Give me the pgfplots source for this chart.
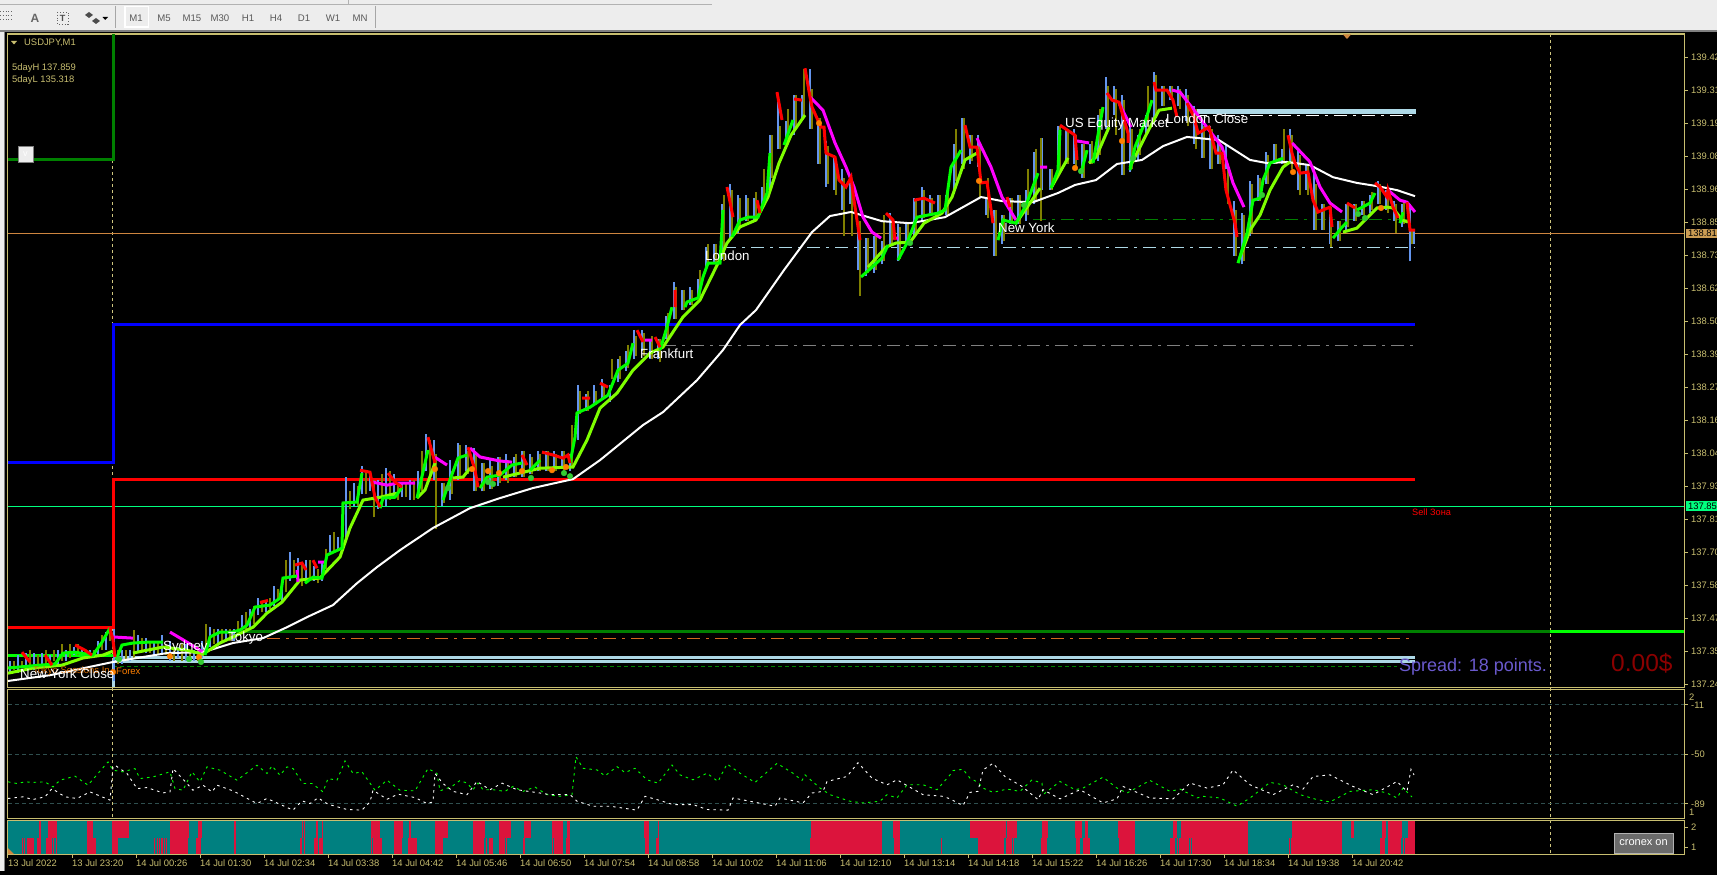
\documentclass[border=0pt]{standalone}
\usepackage{fontspec}
\setmainfont{Liberation Sans}
\usepackage{pgfplots}
\usepackage{pgfplotstable}
\pgfplotsset{compat=1.18}

\definecolor{khaki}{HTML}{C8BE70}
\definecolor{wickup}{HTML}{6495ED}
\definecolor{wickdn}{HTML}{808000}
\definecolor{slowgr}{HTML}{7FFF00}
\definecolor{bidline}{HTML}{CD853F}
\definecolor{teal1}{HTML}{008080}
\definecolor{crim}{HTML}{DC143C}
\definecolor{grid1}{HTML}{2F4F4F}
\definecolor{magen}{HTML}{FF00FF}

% x is the bar position, one bar for each pixel column
% candles: x high low
\pgfplotstableread[row sep=\\]{
x hi lo\\
10 137.32 137.28\\ 18 137.34 137.28\\ 26 137.35 137.30\\ 34 137.35 137.29\\ 42 137.35 137.30\\ 50 137.34 137.30\\
58 137.36 137.31\\ 66 137.36 137.32\\ 74 137.37 137.34\\ 82 137.36 137.34\\ 90 137.36 137.33\\ 98 137.39 137.34\\
106 137.42 137.36\\ 114 137.43 137.25\\ 122 137.36 137.31\\ 130 137.36 137.32\\ 138 137.41 137.35\\ 146 137.40 137.35\\
154 137.39 137.34\\ 162 137.41 137.35\\ 170 137.39 137.32\\ 178 137.37 137.33\\ 186 137.38 137.32\\ 194 137.36 137.32\\
202 137.39 137.33\\ 210 137.44 137.37\\ 218 137.43 137.38\\ 226 137.43 137.39\\ 234 137.43 137.39\\ 242 137.48 137.43\\
250 137.50 137.43\\ 258 137.54 137.48\\ 266 137.53 137.49\\ 274 137.58 137.51\\ 282 137.58 137.53\\ 290 137.70 137.60\\
298 137.68 137.62\\ 306 137.67 137.59\\ 314 137.65 137.60\\ 322 137.66 137.60\\ 330 137.76 137.70\\ 338 137.75 137.71\\
346 137.96 137.74\\ 354 137.94 137.86\\ 362 138.00 137.90\\ 370 137.98 137.91\\ 378 137.95 137.85\\ 386 137.99 137.86\\
394 137.97 137.89\\ 402 137.94 137.89\\ 410 137.95 137.88\\ 418 137.98 137.89\\ 426 138.11 137.98\\ 434 138.09 137.95\\
442 137.94 137.86\\ 450 138.02 137.88\\ 458 138.08 137.95\\ 466 138.07 137.98\\ 474 138.06 137.91\\ 482 138.01 137.91\\
490 138.02 137.92\\ 498 138.03 137.93\\ 506 138.04 137.95\\ 514 138.03 137.96\\ 522 138.05 137.96\\ 530 138.04 137.97\\
538 138.05 137.98\\ 546 138.05 137.98\\ 554 138.05 137.98\\ 562 138.05 137.99\\ 570 138.04 137.98\\ 578 138.28 138.09\\
586 138.25 138.19\\ 594 138.28 138.21\\ 602 138.30 138.23\\ 610 138.28 138.22\\ 618 138.37 138.29\\ 626 138.40 138.33\\
634 138.47 138.37\\ 642 138.47 138.40\\ 650 138.44 138.37\\ 658 138.44 138.37\\ 666 138.52 138.44\\ 674 138.64 138.51\\
682 138.61 138.54\\ 690 138.62 138.56\\ 698 138.65 138.58\\ 706 138.76 138.69\\ 714 138.77 138.70\\ 722 138.91 138.72\\
730 138.98 138.78\\ 738 138.94 138.81\\ 746 138.94 138.85\\ 754 138.93 138.85\\ 762 138.97 138.89\\ 770 139.15 138.96\\
778 139.29 139.10\\ 786 139.20 139.13\\ 794 139.29 139.15\\ 802 139.29 139.20\\ 810 139.38 139.17\\ 818 139.21 139.05\\
826 139.13 138.97\\ 834 139.08 138.96\\ 842 139.03 138.89\\ 850 138.99 138.91\\ 858 138.84 138.68\\ 866 138.79 138.66\\
874 138.80 138.67\\ 882 138.78 138.70\\ 890 138.88 138.77\\ 898 138.84 138.71\\ 906 138.84 138.77\\ 914 138.93 138.80\\
922 138.97 138.85\\ 930 138.94 138.87\\ 938 138.94 138.87\\ 946 138.94 138.87\\ 954 139.12 138.96\\ 962 139.21 139.05\\
970 139.15 139.05\\ 978 139.15 139.04\\ 986 138.93 138.87\\ 994 138.89 138.73\\ 1002 138.87 138.77\\ 1010 138.93 138.84\\
1018 138.94 138.84\\ 1026 138.96 138.85\\ 1034 139.09 138.91\\ 1042 139.14 138.96\\ 1050 139.03 138.96\\ 1058 139.18 139.03\\
1066 139.17 139.05\\ 1074 139.17 139.05\\ 1082 139.12 139.00\\ 1090 139.12 139.05\\ 1098 139.22 139.06\\ 1106 139.35 139.17\\
1114 139.32 139.22\\ 1122 139.29 139.01\\ 1130 139.18 139.02\\ 1138 139.15 139.06\\ 1146 139.22 139.15\\ 1154 139.37 139.20\\
1162 139.32 139.25\\ 1170 139.32 139.27\\ 1178 139.32 139.25\\ 1186 139.31 139.20\\ 1194 139.25 139.12\\ 1202 139.20 139.07\\
1210 139.18 139.03\\ 1218 139.15 139.05\\ 1226 139.12 139.03\\ 1234 138.92 138.73\\ 1242 138.88 138.70\\ 1250 138.99 138.80\\
1258 139.01 138.92\\ 1266 139.09 138.98\\ 1274 139.12 139.05\\ 1282 139.10 139.05\\ 1290 139.17 139.05\\ 1298 139.10 138.96\\
1306 139.05 138.96\\ 1314 139.03 138.82\\ 1322 138.91 138.82\\ 1330 138.90 138.77\\ 1338 138.85 138.78\\ 1346 138.91 138.82\\
1354 138.91 138.85\\ 1362 138.92 138.87\\ 1370 138.94 138.88\\ 1378 138.99 138.91\\ 1386 138.96 138.89\\ 1394 138.92 138.85\\
1402 138.91 138.83\\ 1410 138.91 138.71\\ 1414 138.82 138.77\\
}\bullbars
\pgfplotstableread[row sep=\\]{
x hi lo\\
14 137.32 137.29\\ 22 137.32 137.30\\ 30 137.36 137.30\\ 38 137.34 137.30\\ 46 137.36 137.31\\ 54 137.36 137.32\\
62 137.38 137.32\\ 70 137.38 137.33\\ 78 137.38 137.34\\ 86 137.36 137.34\\ 94 137.36 137.34\\ 102 137.41 137.36\\
110 137.43 137.39\\ 118 137.36 137.31\\ 126 137.36 137.32\\ 134 137.43 137.33\\ 142 137.40 137.36\\ 150 137.39 137.35\\
158 137.39 137.34\\ 166 137.38 137.34\\ 174 137.36 137.32\\ 182 137.38 137.32\\ 190 137.36 137.32\\ 198 137.37 137.32\\
206 137.45 137.36\\ 214 137.43 137.38\\ 222 137.43 137.39\\ 230 137.43 137.39\\ 238 137.46 137.42\\ 246 137.49 137.43\\
254 137.51 137.45\\ 262 137.53 137.49\\ 270 137.54 137.50\\ 278 137.57 137.53\\ 286 137.67 137.56\\ 294 137.67 137.61\\
302 137.66 137.58\\ 310 137.67 137.61\\ 318 137.64 137.59\\ 326 137.71 137.64\\ 334 137.77 137.70\\ 342 137.74 137.70\\
350 137.91 137.85\\ 358 137.93 137.86\\ 366 137.98 137.90\\ 374 137.95 137.82\\ 382 137.97 137.86\\ 390 137.98 137.88\\
398 137.94 137.88\\ 406 137.94 137.89\\ 414 137.95 137.88\\ 422 138.05 137.91\\ 430 138.09 137.97\\ 436 138.04 137.78\\
444 137.94 137.87\\ 452 137.98 137.90\\ 460 138.07 137.96\\ 468 138.05 137.97\\ 476 138.04 137.91\\ 484 138.01 137.91\\
492 138.00 137.92\\ 500 138.03 137.94\\ 508 138.02 137.94\\ 516 138.04 137.96\\ 524 138.05 137.96\\ 532 138.03 137.97\\
540 138.04 137.98\\ 548 138.05 137.98\\ 556 138.04 137.98\\ 564 138.05 137.98\\ 572 138.14 138.00\\ 580 138.26 138.18\\
588 138.26 138.19\\ 596 138.26 138.21\\ 604 138.28 138.23\\ 612 138.37 138.30\\ 620 138.38 138.30\\ 628 138.42 138.34\\
636 138.45 138.38\\ 644 138.46 138.38\\ 652 138.45 138.37\\ 660 138.44 138.36\\ 668 138.53 138.44\\ 676 138.62 138.51\\
684 138.61 138.54\\ 692 138.61 138.56\\ 700 138.68 138.58\\ 708 138.77 138.70\\ 716 138.77 138.70\\ 724 138.94 138.71\\
732 138.96 138.79\\ 740 138.93 138.83\\ 748 138.93 138.85\\ 756 138.95 138.85\\ 764 139.03 138.91\\ 772 139.15 139.00\\
780 139.18 139.10\\ 788 139.24 139.12\\ 796 139.29 139.17\\ 804 139.38 139.22\\ 812 139.31 139.17\\ 820 139.21 139.05\\
828 139.11 138.98\\ 836 139.06 138.94\\ 844 139.00 138.80\\ 852 138.98 138.80\\ 860 138.85 138.59\\ 868 138.79 138.67\\
876 138.80 138.68\\ 884 138.87 138.71\\ 892 138.86 138.77\\ 900 138.83 138.72\\ 908 138.84 138.77\\ 916 138.92 138.81\\
924 138.96 138.86\\ 932 138.93 138.87\\ 940 138.94 138.87\\ 948 138.95 138.87\\ 956 139.17 138.99\\ 964 139.21 139.03\\
972 139.15 139.06\\ 980 139.12 138.93\\ 988 139.00 138.86\\ 996 138.89 138.73\\ 1004 138.87 138.78\\ 1012 138.93 138.84\\
1020 138.94 138.84\\ 1028 139.03 138.87\\ 1036 139.10 138.92\\ 1041 139.14 138.85\\ 1052 139.03 138.96\\ 1060 139.18 139.02\\
1068 139.17 139.05\\ 1076 139.15 139.03\\ 1084 139.12 139.00\\ 1092 139.13 139.05\\ 1100 139.24 139.08\\ 1108 139.32 139.18\\
1116 139.31 139.15\\ 1124 139.27 139.01\\ 1132 139.17 139.03\\ 1140 139.17 139.08\\ 1148 139.32 139.18\\ 1156 139.36 139.22\\
1164 139.32 139.25\\ 1172 139.32 139.27\\ 1180 139.31 139.24\\ 1188 139.29 139.18\\ 1196 139.24 139.10\\ 1204 139.18 139.07\\
1212 139.17 139.03\\ 1220 139.13 139.05\\ 1228 139.05 138.91\\ 1236 138.89 138.73\\ 1244 138.87 138.71\\ 1252 138.98 138.81\\
1260 139.00 138.92\\ 1268 139.08 138.98\\ 1276 139.12 139.05\\ 1284 139.17 139.05\\ 1292 139.15 139.03\\ 1300 139.08 138.94\\
1308 139.05 138.94\\ 1316 138.98 138.82\\ 1324 138.91 138.82\\ 1331 138.90 138.76\\ 1340 138.85 138.78\\ 1348 138.91 138.83\\
1356 138.91 138.85\\ 1364 138.92 138.87\\ 1372 138.95 138.89\\ 1380 138.98 138.91\\ 1388 138.95 138.88\\ 1396 138.91 138.81\\
1404 138.92 138.84\\ 1412 138.82 138.77\\
}\bearbars

% histogram rows: red stretches, from to
\pgfplotstableread[row sep=\\]{
a b\\
39 41\\ 48 57\\ 87 93\\ 112 129\\ 170 189\\ 198 202\\ 234 236\\ 302 303\\ 304 305\\ 316 318\\ 322 323\\ 371 380\\ 394 403\\
409 411\\ 435 448\\ 473 485\\ 499 511\\ 524 531\\ 552 563\\ 567 570\\ 644 649\\ 658 659\\ 811 882\\ 893 900\\ 970 1006\\
1007 1017\\ 1042 1048\\ 1075 1082\\ 1085 1088\\ 1118 1135\\ 1173 1177\\ 1181 1248\\ 1292 1342\\ 1351 1354\\ 1382 1386\\
1388 1402\\ 1408 1415\\
}\rowtwo
\pgfplotstableread[row sep=\\]{
a b\\
22 23\\ 24 25\\ 27 34\\ 37 41\\ 46 52\\ 53 54\\ 56 57\\ 87 96\\ 112 118\\ 154 155\\ 157 158\\ 159 160\\ 161 163\\ 164 165\\
166 167\\ 170 188\\ 196 201\\ 234 236\\ 300 302\\ 304 305\\ 314 318\\ 319 323\\ 371 372\\ 373 382\\ 394 402\\ 408 417\\
435 443\\ 473 484\\ 486 487\\ 489 493\\ 499 505\\ 506 507\\ 523 525\\ 552 553\\ 554 563\\ 566 570\\ 645 649\\ 656 659\\
810 882\\ 894 900\\ 941 942\\ 978 1004\\ 1006 1012\\ 1013 1014\\ 1041 1047\\ 1076 1080\\ 1083 1090\\ 1119 1135\\ 1170 1175\\
1177 1178\\ 1179 1189\\ 1190 1191\\ 1192 1248\\ 1289 1290\\ 1291 1342\\ 1380 1385\\ 1388 1401\\ 1403 1404\\ 1405 1415\\
}\rowone

\pgfplotsset{
  panel/.style={scale only axis,anchor=south west,width=1676pt,xmin=8,xmax=1684,
    axis line style={khaki,line width=1pt},tick style={khaki,line width=1pt},
    major tick length=4pt,tick align=outside,ytick pos=right,yticklabel pos=right,
    scaled ticks=false,unbounded coords=jump,
    tick label style={text=khaki,font=\fontsize{9.4}{11}\selectfont,inner sep=0pt},
    yticklabel style={anchor=west,xshift=3pt}},
  wick/.style={draw=none,mark=none,forget plot,error bars/.cd,y dir=plus,y explicit,error mark=none,
    error bar style={color=#1,line width=2pt}},
  band/.style={draw=none,mark=none,forget plot,error bars/.cd,x dir=plus,x explicit,error mark=none,
    error bar style={color=crim,line width=#1}},
  dd/.style={#1,line width=1pt,dash pattern=on 13pt off 6pt on 3pt off 6pt},
}
\newcommand{\lab}[4]{\node[anchor=west,inner sep=0pt,text=#1,font=\fontsize{#2}{#2}\selectfont] at (#3) {#4};}

\begin{document}
\begin{tikzpicture}
\path[use as bounding box] (0pt,-875pt) rectangle (1717pt,0pt);
\clip (0pt,-875pt) rectangle (1717pt,0pt);
\begin{scope}[x=1pt,y=-1pt]
  \fill[black] (0,0) rectangle (1717,875);
  \fill[white!93!black] (0,0) rectangle (1717,30);
  \fill[white!93!black] (0,0) rectangle (3.5,871);
  \fill[gray] (3.5,30) rectangle (5,871);
  \fill[gray] (0,30) rectangle (1717,32);
  \draw[white!70!black,line width=.8pt] (0,4) -- (712,4) (348,0) -- (348,4);
  \draw[white!65!black,line width=1pt] (115,6) -- (115,28) (375.5,6) -- (375.5,28);
  \fill[white] (124,6) rectangle (149,28);
  \fill[white!93!black] (125.5,7.5) rectangle (147.5,26.5);
  \foreach \x/\t in {136/M1,164/M5,192/M15,220/M30,248/H1,276/H4,304/D1,333/W1,360/MN}
    \node[text=black!65,font=\fontsize{9.6}{11}\selectfont,inner sep=0pt] at (\x,18.5) {\t};
  \node[text=black!60,font=\bfseries\fontsize{12}{12}\selectfont,inner sep=0pt] at (35,18.5) {A};
  \draw[black!60,dotted,line width=.8pt] (57,12) rectangle (68,24);
  \node[text=black!70,font=\bfseries\fontsize{9}{9}\selectfont,inner sep=0pt] at (62.5,18) {T};
  \draw[black!60,dotted,line width=.8pt] (0,11) -- (12,11) (0,15) -- (12,15) (0,19) -- (12,19);
  \fill[black!70] (85,15) -- (89,12) -- (93,15) -- (89,18) -- cycle (92,21) -- (96,18) -- (100,21) -- (96,24) -- cycle;
  \fill[black] (102.5,17) -- (108,17) -- (105.2,20) -- cycle;
  % session separators
  \draw[khaki!90!white,line width=1pt,dash pattern=on 3pt off 3pt] (112.5,160) -- (112.5,820);
  \draw[khaki!90!white,line width=1pt,dash pattern=on 3pt off 3pt] (1550,34) -- (1550,854);
\end{scope}

% price window
\begin{axis}[panel,at={(8pt,-687pt)},height=653pt,ymin=137.230,ymax=139.501,xtick=\empty,
  ytick={139.420,139.305,139.190,139.076,138.961,138.846,138.731,138.617,138.502,138.387,138.272,138.157,138.043,137.928,137.813,137.698,137.584,137.469,137.354,137.239},
  yticklabels={139.42,139.31,139.19,139.08,138.96,138.85,138.73,138.62,138.50,138.39,138.27,138.16,138.04,137.93,137.81,137.70,137.58,137.47,137.35,137.24}]
\addplot[bidline,line width=1pt] coordinates {(8,138.808)(1684,138.808)};
\addplot[color={rgb,255:red,0;green,255;blue,127},line width=1pt] coordinates {(8,137.859)(1684,137.859)};
\addplot[dd=gray] coordinates {(663,138.416)(1415,138.416)};
\addplot[dd={color={rgb,255:red,173;green,216;blue,230}}] coordinates {(723,138.760)(1415,138.760)};
\addplot[dd=white] coordinates {(1194,139.216)(1415,139.216)};
\addplot[dd={color={rgb,255:red,0;green,128;blue,0}}] coordinates {(1033,138.857)(1415,138.857)};
\addplot[dd={color={rgb,255:red,210;green,105;blue,30}}] coordinates {(267,137.400)(1412,137.400)};
\addplot[color={rgb,255:red,0;green,128;blue,0},line width=1pt,dash pattern=on 4pt off 3pt] coordinates {(113,137.303)(1397,137.303)};
\addplot[red,line width=3pt] coordinates {(8,137.438)(113,137.438)(113,137.953)(1415,137.953)};
\addplot[blue,line width=3pt] coordinates {(8,138.012)(113,138.012)(113,138.492)(1415,138.492)};
\addplot[color={rgb,255:red,0;green,128;blue,0},line width=3pt] coordinates {(8,139.066)(113,139.066)(113,139.6)};
\addplot[color={rgb,255:red,0;green,128;blue,0},line width=3pt] coordinates {(237,137.424)(1550,137.424)};
\addplot[color={rgb,255:red,0;green,255;blue,0},line width=3pt] coordinates {(1550,137.424)(1684,137.424)};
\addplot[color={rgb,255:red,0;green,255;blue,0},line width=3pt] coordinates {(8,137.341)(113,137.341)};
\addplot[color={rgb,255:red,173;green,216;blue,230},line width=3pt] coordinates {(113,137.334)(1415,137.334)};
\addplot[color={rgb,255:red,173;green,216;blue,230},line width=3pt] coordinates {(113,137.230)(113,137.320)(1415,137.320)};
\addplot[color={rgb,255:red,173;green,216;blue,230},line width=5pt] coordinates {(1194,139.233)(1416,139.233)};

\addplot[wick=wickup] table[x=x,y=lo,y error expr=\thisrow{hi}-\thisrow{lo}] {\bullbars};
\addplot[wick=wickdn] table[x=x,y=lo,y error expr=\thisrow{hi}-\thisrow{lo}] {\bearbars};

% slow average, white
\addplot[white,line width=2pt] coordinates {(8,137.251)(50,137.271)(113,137.317)(167,137.348)(203,137.351)(233,137.383)(263,137.400)(287,137.438)(307,137.473)(333,137.515)(357,137.591)(377,137.647)(400,137.706)(433,137.783)(470,137.852)(500,137.887)(533,137.922)(573,137.953)(600,138.019)(643,138.141)(663,138.186)(697,138.297)(723,138.402)(740,138.489)(756,138.541)(784,138.680)(812,138.812)(830,138.868)(851,138.882)(882,138.850)(910,138.843)(945,138.864)(981,138.934)(1002,138.920)(1033,138.916)(1058,138.948)(1075,138.976)(1096,138.993)(1117,139.049)(1142,139.063)(1163,139.111)(1187,139.143)(1219,139.132)(1250,139.063)(1267,139.052)(1287,139.056)(1310,139.045)(1333,139.003)(1357,138.983)(1377,138.972)(1397,138.958)(1415,138.937)};

% middle average, up and down stretches
\addplot[slowgr,line width=3pt] coordinates {(8,137.278)(33,137.296)(62,137.306)(83,137.331)(103,137.341)(113,137.355)(113,nan)
(133,137.348)(147,137.358)(163,137.369)(187,137.358)(203,137.344)(220,137.383)(233,137.404)(253,137.438)(267,137.487)(282,137.525)(300,137.602)(320,137.609)(340,137.682)(350,137.783)(363,137.880)(380,137.890)(397,137.904)(397,nan)
(417,137.887)(425,137.915)(435,138.009)(435,nan)(453,137.957)(463,137.960)(470,137.991)(470,nan)
(503,137.960)(520,137.974)(540,137.991)(573,137.995)(587,138.089)(600,138.200)(617,138.252)(633,138.332)(650,138.391)(663,138.412)(683,138.517)(700,138.576)(718,138.704)(727,138.774)(740,138.830)(756,138.854)(768,138.934)(779,139.052)(791,139.149)(805,139.219)(805,nan)
(868,138.690)(886,138.760)(896,138.774)(910,138.777)(924,138.843)(942,138.878)(952,138.934)(965,139.063)(977,139.087)(977,nan)
(1016,138.843)(1030,138.913)(1040,138.965)(1040,nan)(1051,138.965)(1068,139.070)(1068,nan)(1089,139.052)(1096,139.073)(1109,139.177)(1109,nan)
(1130,139.038)(1145,139.143)(1159,139.236)(1172,139.243)(1172,nan)(1240,138.725)(1250,138.819)(1260,138.871)(1270,138.958)(1283,139.038)(1290,139.056)(1290,nan)
(1343,138.812)(1357,138.826)(1377,138.896)(1387,138.899)(1393,138.896)(1402,138.854)(1408,138.847)};
\addplot[magen,line width=3pt] coordinates {(113,137.404)(133,137.400)(133,nan)(170,137.421)(187,137.386)(203,137.351)(203,nan)
(297,137.637)(298,137.596)(298,nan)(318,137.664)(325,137.664)(325,nan)(372,137.943)(387,137.932)(397,137.939)(415,137.939)(415,nan)(435,138.029)(447,138.002)(447,nan)
(470,138.061)(480,138.030)(500,138.016)(512,138.012)(512,nan)(645,138.436)(652,138.436)(652,nan)
(810,139.282)(823,139.236)(835,139.122)(846,139.038)(854,138.969)(863,138.864)(872,138.812)(881,138.791)(881,nan)(893,138.791)(898,138.791)(898,nan)
(977,139.139)(991,139.038)(1002,138.934)(1016,138.854)(1016,nan)(1040,139.038)(1047,139.038)(1047,nan)(1077,139.129)(1089,139.122)(1089,nan)(1119,139.261)(1131,139.177)(1131,nan)
(1172,139.306)(1180,139.299)(1194,139.236)(1209,139.167)(1222,139.108)(1233,138.983)(1244,138.899)(1244,nan)
(1292,139.122)(1310,139.056)(1320,138.969)(1330,138.913)(1342,138.882)(1342,nan)(1388,138.958)(1400,138.923)(1407,138.916)(1415,138.882)};

% fast average, up and down stretches
\addplot[color={rgb,255:red,0;green,255;blue,0},line width=3pt] coordinates {(8,137.296)(40,137.306)(55,137.310)(63,137.348)(75,137.351)(93,137.341)(102,137.386)(110,137.435)(110,nan)
(116,137.324)(122,137.376)(133,137.383)(148,137.386)(163,137.386)(163,nan)
(205,137.341)(210,137.404)(220,137.421)(232,137.421)(240,137.428)(247,137.445)(255,137.508)(270,137.515)(280,137.539)(283,137.609)(297,137.616)(297,nan)
(305,137.591)(313,137.612)(322,137.609)(327,137.689)(342,137.713)(343,137.870)(357,137.873)(362,137.974)(362,nan)
(380,137.852)(383,137.887)(395,137.890)(402,137.925)(402,nan)(417,137.887)(428,138.054)(428,nan)
(443,137.880)(448,137.932)(458,138.026)(467,138.037)(467,nan)(480,137.922)(487,137.960)(500,137.967)(512,138.002)(522,138.009)(522,nan)(530,137.984)(540,138.019)(540,nan)
(570,138.009)(575,138.099)(577,138.183)(590,138.203)(608,138.245)(618,138.332)(628,138.356)(633,138.426)(633,nan)(660,138.402)(667,138.482)(672,138.551)(672,nan)
(685,138.551)(687,138.569)(698,138.583)(703,138.656)(708,138.704)(720,138.704)(723,138.889)(723,nan)
(732,138.795)(740,138.854)(748,138.864)(758,138.864)(767,138.948)(770,139.087)(770,nan)(784,139.115)(793,139.202)(793,nan)
(861,138.656)(872,138.690)(882,138.722)(888,138.767)(888,nan)(898,138.715)(907,138.774)(917,138.864)(938,138.878)(945,138.889)(951,139.038)(961,139.097)(961,nan)
(998,138.784)(1003,138.854)(1016,138.843)(1026,138.906)(1038,139.017)(1038,nan)(1051,138.965)(1058,139.028)(1060,139.167)(1060,nan)(1081,139.017)(1087,139.097)(1087,nan)
(1093,139.052)(1103,139.247)(1103,nan)(1130,139.028)(1135,139.108)(1145,139.195)(1152,139.271)(1152,nan)
(1238,138.704)(1247,138.808)(1253,138.923)(1260,138.930)(1263,138.993)(1270,139.052)(1283,139.069)(1283,nan)
(1333,138.791)(1342,138.829)(1347,138.847)(1347,nan)(1357,138.889)(1370,138.913)(1375,138.948)(1375,nan)(1400,138.843)(1403,138.881)};
\addplot[red,line width=3pt] coordinates {(22,137.351)(30,137.317)(30,nan)(45,137.341)(52,137.306)(52,nan)(75,137.376)(85,137.358)(92,137.341)(92,nan)
(110,137.435)(113,137.393)(115,137.334)(115,nan)(260,137.524)(268,137.531)(268,nan)(295,137.654)(302,137.661)(306,137.637)(306,nan)(313,137.671)(317,137.643)(317,nan)
(360,137.984)(370,137.977)(375,137.890)(380,137.856)(380,nan)(388,137.974)(395,137.943)(402,137.925)(402,nan)(428,138.099)(435,138.009)(435,nan)
(468,138.064)(475,137.984)(478,137.925)(478,nan)(522,138.037)(527,138.002)(527,nan)(542,138.047)(553,138.037)(563,138.026)(568,138.037)(570,138.009)(570,nan)
(582,138.235)(590,138.235)(590,nan)(600,138.287)(608,138.273)(608,nan)(637,138.471)(643,138.430)(643,nan)(655,138.447)(660,138.412)(660,nan)(675,138.610)(675,138.551)(675,nan)
(727,138.969)(733,138.864)(733,nan)(757,138.923)(760,138.878)(760,nan)(777,139.299)(782,139.202)(782,nan)(794,139.275)(802,139.271)(802,nan)
(805,139.382)(810,139.282)(812,139.247)(821,139.177)(824,139.177)(826,139.087)(835,139.073)(839,138.993)(846,138.969)(851,139.003)(854,138.923)(860,138.784)(860,nan)
(886,138.878)(893,138.854)(895,138.784)(895,nan)(914,138.923)(924,138.930)(935,138.913)(935,nan)
(965,139.184)(970,139.108)(977,139.108)(981,138.983)(987,138.986)(993,138.843)(993,nan)(1007,138.934)(1010,138.899)(1010,nan)(1060,139.184)(1075,139.149)(1077,139.063)(1077,nan)
(1107,139.296)(1112,139.271)(1119,139.264)(1128,139.156)(1128,139.122)(1128,nan)(1154,139.334)(1156,139.306)(1167,139.306)(1173,139.271)(1177,139.212)(1177,nan)
(1187,139.261)(1194,139.212)(1198,139.156)(1209,139.177)(1216,139.087)(1222,139.087)(1226,138.958)(1235,138.843)(1237,138.795)(1237,nan)
(1288,139.149)(1292,139.087)(1295,139.052)(1300,139.017)(1308,139.021)(1313,138.923)(1318,138.882)(1330,138.899)(1332,138.830)(1332,nan)
(1347,138.913)(1355,138.896)(1355,nan)(1375,138.983)(1380,138.969)(1387,138.934)(1388,138.958)(1393,138.899)(1398,138.861)(1398,nan)(1407,138.916)(1410,138.819)(1415,138.819)};

% signal dots
\addplot[only marks,mark=*,mark size=2.8pt,mark options={fill=orange,draw=orange}] coordinates {(170,137.337)(199,137.334)(113,137.282)(435,137.988)(472,137.988)(499,137.974)(522,137.981)(552,137.984)(566,137.995)(488,137.981)(819,139.191)(979,138.990)(1122,139.129)(1075,139.035)(1293,139.021)(1381,138.896)};
\addplot[only marks,mark=*,mark size=2.8pt,mark options={fill={rgb,255:red,50;green,205;blue,50},draw={rgb,255:red,50;green,205;blue,50}}] coordinates {(119,137.327)(189,137.327)(201,137.317)(448,137.922)(488,137.943)(493,137.936)(531,137.957)(564,137.974)(570,137.963)(910,138.774)(1024,138.906)(1081,139.024)(1133,139.069)(1262,138.941)(1358,138.875)(1365,138.861)};
\end{axis}

% oscillator window
\begin{axis}[panel,at={(8pt,-818pt)},height=129pt,ymin=-100.1,ymax=1.6,xtick=\empty,
  ytick={-11,-50,-89},yticklabels={-11,-50,-89},yticklabel style={xshift=0pt}]
\addplot[grid1,line width=1pt,dash pattern=on 4pt off 3pt] coordinates {(8,-11)(1684,-11)};
\addplot[grid1,line width=1pt,dash pattern=on 4pt off 3pt] coordinates {(8,-50)(1684,-50)};
\addplot[grid1,line width=1pt,dash pattern=on 4pt off 3pt] coordinates {(8,-89)(1684,-89)};
\addplot[color={rgb,255:red,0;green,255;blue,0},line width=.9pt,dash pattern=on 2.5pt off 4pt] coordinates {(8,-71.6)(17,-72.9)(25,-71.6)(33,-72)(45,-71.6)(53,-75.6)(60,-70.3)(75,-67.1)(88,-74.2)(98,-65)(108,-55.9)(113,-62.4)(123,-63.7)(135,-61.1)(140,-69)(153,-67.7)(170,-63.7)(175,-76.9)(183,-78.2)(192,-63.7)(200,-71.6)(207,-59.8)(220,-62.4)(237,-70.3)(257,-58.5)(267,-65)(272,-59)(280,-66.4)(287,-59.8)(293,-61.1)(303,-72.9)(312,-72.9)(323,-79.5)(328,-69)(337,-70.3)(345,-55.1)(353,-65)(362,-63.7)(375,-78.2)(387,-70.3)(400,-78.2)(415,-78.7)(428,-61.1)(437,-65)(440,-78.7)(452,-75.2)(460,-70.5)(467,-72.6)(473,-77.8)(478,-72.6)(483,-77.8)(493,-77.8)(505,-79.1)(513,-75.2)(523,-79.1)(535,-75.7)(547,-81.7)(560,-83)(572,-81.7)(576,-51.8)(583,-60.9)(597,-62.2)(605,-66.9)(617,-59.6)(625,-64.3)(635,-60.9)(647,-70)(658,-72.6)(672,-58.3)(680,-66.1)(693,-70)(707,-64.8)(718,-71.3)(727,-57.5)(740,-64.8)(755,-72.1)(777,-57)(793,-64.8)(802,-70.5)(805,-66.1)(820,-76.5)(830,-81.7)(850,-86.9)(863,-88.2)(880,-86.9)(887,-81.7)(897,-84.3)(907,-73.9)(923,-73.9)(937,-77.8)(950,-66.1)(953,-62.7)(963,-61.7)(970,-68.7)(978,-72)(983,-76.5)(993,-79.9)(1007,-77.3)(1020,-79.1)(1032,-70)(1042,-72.6)(1043,-81.7)(1060,-71.3)(1075,-77.8)(1083,-76.5)(1103,-67.9)(1117,-76.5)(1127,-80.4)(1150,-70.5)(1170,-79.1)(1180,-77.3)(1197,-84.3)(1203,-83)(1220,-84.3)(1237,-90.8)(1250,-84.3)(1270,-72)(1283,-73.9)(1300,-81.7)(1317,-85.6)(1330,-87.4)(1350,-79.1)(1373,-77.8)(1387,-80.4)(1397,-84.3)(1403,-76.5)(1412,-83.5)};
\addplot[white,line width=.9pt,dash pattern=on 2.5pt off 4pt] coordinates {(8,-84.7)(23,-83.4)(33,-85.5)(45,-83.4)(52,-76.9)(65,-83.4)(77,-84.7)(90,-79.5)(110,-86)(113,-59.8)(115,-58.5)(127,-65)(137,-76.9)(147,-76.1)(163,-80.3)(170,-79.5)(173,-61.1)(187,-72.9)(193,-78.2)(203,-74.2)(212,-79.5)(217,-74.2)(233,-78.7)(257,-88.7)(267,-84.7)(293,-93.9)(302,-86.6)(310,-88.7)(318,-84.2)(328,-89.2)(347,-93.4)(362,-93.9)(370,-87.4)(373,-78.2)(387,-85.3)(398,-81.3)(415,-84)(427,-88.7)(433,-87.4)(435,-65)(443,-72.9)(453,-79.1)(467,-81.7)(477,-71.3)(490,-77.8)(502,-72.6)(517,-77.8)(540,-80.4)(550,-81.7)(570,-81.7)(577,-86.9)(593,-90.8)(610,-90.8)(637,-93.9)(645,-83)(657,-85.6)(673,-89.5)(693,-89.5)(707,-93.4)(728,-93.9)(733,-84.3)(750,-86.9)(775,-90.8)(780,-84.3)(803,-88.2)(812,-80.4)(823,-79.1)(827,-71.3)(847,-67.4)(858,-56.5)(872,-68.7)(887,-73.9)(897,-70)(923,-81.7)(943,-83)(950,-85)(963,-90.3)(970,-79.9)(978,-79.1)(983,-62.2)(993,-57)(1005,-67.4)(1022,-75.2)(1038,-85.6)(1043,-77.8)(1060,-85)(1080,-77.8)(1103,-88.2)(1117,-85)(1123,-75.2)(1150,-84.3)(1173,-85)(1190,-72.6)(1207,-76.5)(1223,-73.9)(1233,-62.2)(1250,-73.9)(1273,-81.7)(1293,-73.9)(1303,-77.3)(1313,-67.4)(1330,-66.1)(1353,-75.2)(1373,-81.7)(1397,-71.3)(1407,-79.1)(1411,-61.7)(1414,-66.1)};
\end{axis}

% two row histogram
\begin{axis}[panel,at={(8pt,-854pt)},height=34pt,ymin=0.685,ymax=2.385,ytick={1,2},yticklabels={1,2},
  xtick={8,72,...,1352},
  xticklabels={13 Jul 2022,13 Jul 23:20,14 Jul 00:26,14 Jul 01:30,14 Jul 02:34,14 Jul 03:38,14 Jul 04:42,14 Jul 05:46,14 Jul 06:50,14 Jul 07:54,14 Jul 08:58,14 Jul 10:02,14 Jul 11:06,14 Jul 12:10,14 Jul 13:14,14 Jul 14:18,14 Jul 15:22,14 Jul 16:26,14 Jul 17:30,14 Jul 18:34,14 Jul 19:38,14 Jul 20:42},
  xtick pos=bottom,xticklabel style={anchor=north west,yshift=-1pt}]
\addplot[teal1,line width=17pt] coordinates {(8,1.92)(1415,1.92)};
\addplot[teal1,line width=16pt] coordinates {(8,1.09)(1415,1.09)};
\addplot[band=17pt] table[x=a,y expr=1.92,x error expr=\thisrow{b}-\thisrow{a}] {\rowtwo};
\addplot[band=16pt] table[x=a,y expr=1.09,x error expr=\thisrow{b}-\thisrow{a}] {\rowone};
\end{axis}

\begin{scope}[x=1pt,y=-1pt]
  \fill[bidline] (8,848) -- (14,854) -- (8,854) -- cycle;
  \fill[bidline] (1343,34.5) -- (1351,34.5) -- (1347,39) -- cycle;
  \fill[khaki] (11,41) -- (17,41) -- (14,44.5) -- cycle;
  \lab{khaki}{9.4}{24,42.5}{USDJPY,M1}
  \lab{khaki}{9.4}{12,68}{5dayH 137.859}
  \lab{khaki}{9.4}{12,80}{5dayL 135.318}
  \fill[white!93!black,draw=gray,line width=.7pt] (18,146) rectangle (33,162);
  \node[text=white,font=\fontsize{9}{9}\selectfont,inner sep=0pt] at (25.5,154) {v};
  \lab{orange!85!black}{9.5}{33,671}{Tokyo Sessions In}
  \lab{white}{13.3}{20,674}{New York Close}
  \lab{white}{13.3}{163,647}{Sydney}
  \lab{white}{13.3}{228,638}{Tokyo}
  \lab{white}{13.3}{640,354}{Frankfurt}
  \lab{white}{13.3}{705,256}{London}
  \lab{white}{13.3}{998,228}{New York}
  \lab{white}{13.3}{1065,124}{US Equity Market}
  \lab{white}{13.3}{1166,119}{London Close}
  \lab{orange}{9.5}{116,671}{Forex}
  \lab{red}{9.2}{1412,512.5}{Sell Зона}
  \lab{{rgb,255:red,106;green,90;blue,205}}{18}{1399,667}{Spread: 18 points.}
  \lab{{rgb,255:red,139;green,0;blue,0}}{24.5}{1611,663}{0.00\$}
  \node[fill=bidline!60!khaki,text=black,anchor=west,inner sep=0pt,minimum height=9.5pt,minimum width=31pt,font=\fontsize{9.4}{11}\selectfont,align=left] at (1686,233.5) {\,138.81};
  \node[fill={rgb,255:red,0;green,255;blue,127},text=black,anchor=west,inner sep=0pt,minimum height=9.5pt,minimum width=31pt,font=\fontsize{9.4}{11}\selectfont] at (1686,506) {\,137.85};
  \node[text=khaki,anchor=west,inner sep=0pt,font=\fontsize{9.4}{11}\selectfont] at (1689,697) {2};
  \node[text=khaki,anchor=west,inner sep=0pt,font=\fontsize{9.4}{11}\selectfont] at (1689,812) {1};
  \fill[black!58,draw=white!70!black,line width=.8pt] (1614,833) rectangle (1673,853);
  \node[text=white,font=\fontsize{11}{11}\selectfont,inner sep=0pt] at (1643.5,843) {cronex on};
\end{scope}
\end{tikzpicture}
\end{document}
